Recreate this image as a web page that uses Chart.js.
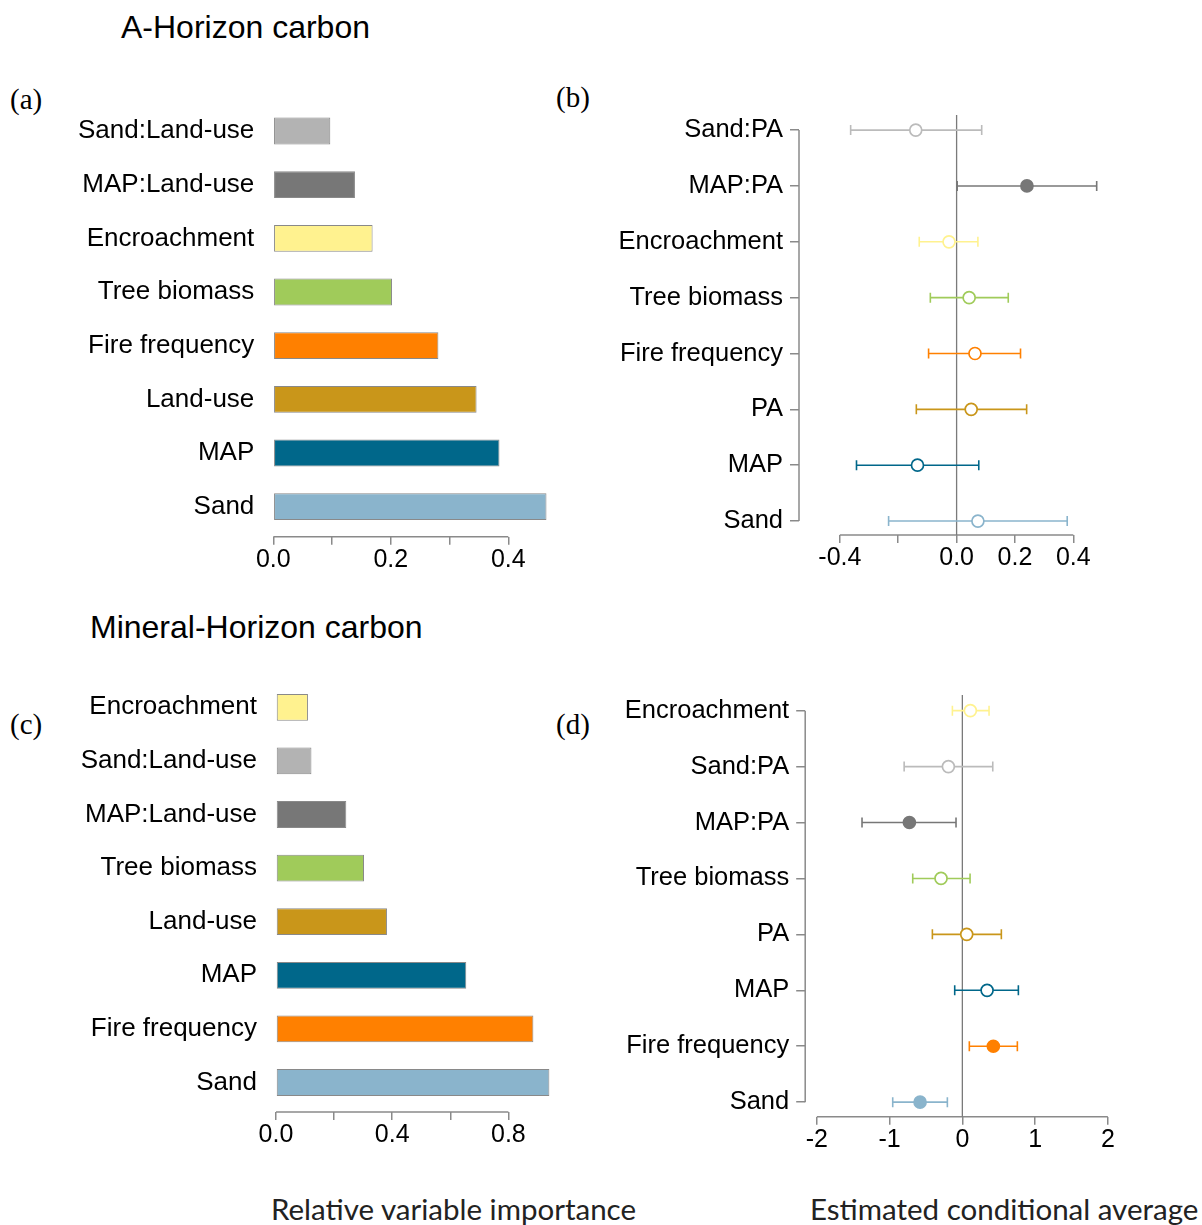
<!DOCTYPE html>
<html>
<head>
<meta charset="utf-8">
<script src="https://cdn.jsdelivr.net/npm/chart.js@4.4.1/dist/chart.umd.min.js"></script>
<style>
  body { margin: 0; background: #fff; }
  #page { position: relative; width: 1202px; height: 1225px; overflow: hidden; background: #fff; }
  canvas { position: absolute; }
  .txt { position: absolute; white-space: nowrap; color: #000; }
  .title { font-family: 'Liberation Sans', Arial, sans-serif; font-size: 32px; }
  .tag { font-family: 'Liberation Serif', 'Times New Roman', serif; font-size: 29px; }
  .xlab { font-family: Lato, 'Open Sans', sans-serif; font-size: 29.5px; color: #222; }
</style>
</head>
<body>
<div id="page">
  <div class="txt title" style="left:121px; top:9px;">A-Horizon carbon</div>
  <div class="txt title" style="left:90px; top:609px;">Mineral-Horizon carbon</div>
  <div class="txt tag" style="left:10px; top:83px;">(a)</div>
  <div class="txt tag" style="left:556px; top:81px;">(b)</div>
  <div class="txt tag" style="left:10px; top:708px;">(c)</div>
  <div class="txt tag" style="left:556px; top:708px;">(d)</div>
  <div class="txt xlab" style="left:271px; top:1191px;">Relative variable importance</div>
  <div class="txt xlab" style="left:810px; top:1191px;">Estimated conditional average</div>

  <canvas id="chartA" width="580" height="500" style="left:0px; top:90px;"></canvas>
  <canvas id="chartB" width="600" height="500" style="left:580px; top:90px;"></canvas>
  <canvas id="chartC" width="580" height="500" style="left:0px; top:670px;"></canvas>
  <canvas id="chartD" width="600" height="500" style="left:580px; top:670px;"></canvas>
</div>

<script>
// colours per predictor
const palette = {
  'Sand': '#8AB4CC',
  'MAP': '#00678A',
  'Land-use': '#C9961A',
  'PA': '#C9961A',
  'Fire frequency': '#FF8000',
  'Tree biomass': '#A0CB5A',
  'Encroachment': '#FFF28F',
  'MAP:Land-use': '#777777',
  'Sand:Land-use': '#B3B3B3',
  'MAP:PA': '#777777',
  'Sand:PA': '#BBBBBB'
};

// (a) A-horizon, relative variable importance
const catsA = ['Sand:Land-use', 'MAP:Land-use', 'Encroachment', 'Tree biomass', 'Fire frequency', 'Land-use', 'MAP', 'Sand'];
const importA = [0.097, 0.139, 0.169, 0.202, 0.281, 0.346, 0.385, 0.465];
const ticksA = [0, 0.1, 0.2, 0.3, 0.4];
const tickLabelsA = ['0.0', '', '0.2', '', '0.4'];

// (b) A-horizon, estimated conditional average with CI
const catsB = ['Sand:PA', 'MAP:PA', 'Encroachment', 'Tree biomass', 'Fire frequency', 'PA', 'MAP', 'Sand'];
const meanB = [-0.140, 0.241, -0.026, 0.043, 0.063, 0.050, -0.134, 0.073];
const lowB = [-0.363, 0.002, -0.128, -0.090, -0.096, -0.138, -0.343, -0.233];
const highB = [0.086, 0.480, 0.073, 0.177, 0.219, 0.240, 0.076, 0.379];
const filledB = [false, true, false, false, false, false, false, false];
const ticksB = [-0.4, -0.2, 0, 0.2, 0.4];
const tickLabelsB = ['-0.4', '', '0.0', '0.2', '0.4'];

// (c) mineral horizon, relative variable importance
const catsC = ['Encroachment', 'Sand:Land-use', 'MAP:Land-use', 'Tree biomass', 'Land-use', 'MAP', 'Fire frequency', 'Sand'];
const importC = [0.110, 0.122, 0.242, 0.303, 0.382, 0.655, 0.886, 0.941];
const ticksC = [0, 0.2, 0.4, 0.6, 0.8];
const tickLabelsC = ['0.0', '', '0.4', '', '0.8'];

// (d) mineral horizon, estimated conditional average with CI
const catsD = ['Encroachment', 'Sand:PA', 'MAP:PA', 'Tree biomass', 'PA', 'MAP', 'Fire frequency', 'Sand'];
const meanD = [0.110, -0.192, -0.728, -0.293, 0.060, 0.340, 0.426, -0.581];
const lowD = [-0.137, -0.800, -1.379, -0.682, -0.412, -0.105, 0.096, -0.957];
const highD = [0.367, 0.418, -0.087, 0.106, 0.536, 0.770, 0.756, -0.206];
const filledD = [false, false, true, false, false, false, true, true];
const ticksD = [-2, -1, 0, 1, 2];
const tickLabelsD = ['-2', '-1', '0', '1', '2'];

const SANS = "'Liberation Sans', Arial, sans-serif";
const AXIS_GREY = '#8a8a8a';

// draws the R-style axis lines (only between first and last tick) and the zero line
const axisLines = {
  id: 'axisLines',
  beforeDatasetsDraw(chart, args, opts) {
    const ctx = chart.ctx, x = chart.scales.x, y = chart.scales.y, area = chart.chartArea;
    ctx.save();
    ctx.strokeStyle = AXIS_GREY;
    ctx.lineWidth = 1.5;
    ctx.beginPath();
    ctx.moveTo(x.getPixelForValue(opts.xFrom), area.bottom);
    ctx.lineTo(x.getPixelForValue(opts.xTo), area.bottom);
    if (opts.yAxis) {
      ctx.moveTo(area.left, y.getPixelForValue(0));
      ctx.lineTo(area.left, y.getPixelForValue(opts.nCats - 1));
    }
    ctx.stroke();
    if (opts.zero) {
      ctx.strokeStyle = '#7a7a7a';
      ctx.lineWidth = 1.3;
      ctx.beginPath();
      ctx.moveTo(x.getPixelForValue(0), area.top);
      ctx.lineTo(x.getPixelForValue(0), area.bottom);
      ctx.stroke();
    }
    ctx.restore();
  }
};

// box = canvas position on the page, area = wanted plot area on the page
function frame(box, area) {
  return {
    padding: { top: area.top - box.top, right: box.left + box.w - area.right, left: 0, bottom: 0 },
    yWidth: area.left - box.left,
    xHeight: box.top + box.h - area.bottom
  };
}

function xScale(min, max, ticks, labels, fr) {
  return {
    type: 'linear', min: min, max: max, offset: false,
    afterBuildTicks: s => { s.ticks = ticks.map(v => ({ value: v })); },
    afterFit: s => { s.height = fr.xHeight; s.paddingLeft = 0; s.paddingRight = 0; },
    grid: { display: true, drawOnChartArea: false, drawTicks: true, tickLength: 8, color: AXIS_GREY, lineWidth: 1.5 },
    border: { display: false },
    ticks: { autoSkip: false, maxRotation: 0, padding: 0, color: '#000', font: { family: SANS, size: 25 },
             callback: (v, i) => labels[i] }
  };
}

function yScale(cats, min, max, fr, withAxis) {
  return {
    type: 'linear', reverse: true, min: min, max: max, offset: false,
    afterBuildTicks: s => { s.ticks = cats.map((c, i) => ({ value: i })); },
    afterFit: s => { s.width = fr.yWidth; s.paddingTop = 0; s.paddingBottom = 0; },
    grid: withAxis
      ? { display: true, drawOnChartArea: false, drawTicks: true, tickLength: 9, color: AXIS_GREY, lineWidth: 1.5 }
      : { display: false },
    border: { display: false },
    ticks: { autoSkip: false, padding: withAxis ? 7 : 11, color: '#000',
             font: { family: SANS, size: withAxis ? 25.5 : 26 },
             callback: (v, i) => cats[i] }
  };
}

function barPanel(id, box, area, cats, values, xMax, ticks, labels, yMax) {
  const fr = frame(box, area);
  new Chart(document.getElementById(id), {
    type: 'bar',
    data: {
      datasets: [{
        data: values.map((v, i) => ({ x: v, y: i })),
        backgroundColor: cats.map(c => palette[c]),
        borderColor: 'rgba(40,40,40,0.55)',
        borderWidth: 1,
        borderSkipped: false,
        barPercentage: 0.5,
        categoryPercentage: 1
      }]
    },
    options: {
      indexAxis: 'y',
      responsive: false, animation: false, devicePixelRatio: 1,
      layout: { padding: fr.padding },
      plugins: { legend: { display: false }, tooltip: { enabled: false },
                 axisLines: { xFrom: ticks[0], xTo: ticks[ticks.length - 1], yAxis: false, zero: false } },
      scales: {
        x: xScale(0, xMax, ticks, labels, fr),
        y: yScale(cats, -0.5, yMax, fr, false)
      }
    },
    plugins: [axisLines]
  });
}

function ciPanel(id, box, area, cats, mean, low, high, filled, xMin, xMax, ticks, labels, yMin, yMax) {
  const fr = frame(box, area);
  const datasets = [{
    type: 'scatter',
    order: 0,
    data: mean.map((m, i) => ({ x: m, y: i })),
    pointRadius: 6,
    pointBorderWidth: 1.7,
    pointBorderColor: cats.map(c => palette[c]),
    pointBackgroundColor: cats.map((c, i) => filled[i] ? palette[c] : '#ffffff')
  }];
  cats.forEach((c, i) => {
    datasets.push({
      type: 'scatter',
      order: 1,
      showLine: true,
      data: [{ x: low[i], y: i }, { x: high[i], y: i }],
      borderColor: palette[c],
      borderWidth: 1.6,
      pointStyle: 'line',
      pointRotation: 90,
      pointRadius: 5,
      pointBorderWidth: 1.6,
      pointBorderColor: palette[c]
    });
  });
  new Chart(document.getElementById(id), {
    type: 'scatter',
    data: { datasets: datasets },
    options: {
      responsive: false, animation: false, devicePixelRatio: 1,
      layout: { padding: fr.padding },
      plugins: { legend: { display: false }, tooltip: { enabled: false },
                 axisLines: { xFrom: ticks[0], xTo: ticks[ticks.length - 1], yAxis: true, nCats: cats.length, zero: true } },
      scales: {
        x: xScale(xMin, xMax, ticks, labels, fr),
        y: yScale(cats, yMin, yMax, fr, true)
      }
    },
    plugins: [axisLines]
  });
}

barPanel('chartA', { left: 0, top: 90, w: 580, h: 500 }, { left: 273.3, top: 104.2, right: 555.3, bottom: 536.7 },
  catsA, importA, 0.48, ticksA, tickLabelsA, 7.56);

ciPanel('chartB', { left: 580, top: 90, w: 600, h: 500 }, { left: 799, top: 115, right: 1114.2, bottom: 535 },
  catsB, meanB, lowB, highB, filledB, -0.54, 0.54, ticksB, tickLabelsB, -0.27, 7.25);

barPanel('chartC', { left: 0, top: 670, w: 580, h: 500 }, { left: 276, top: 680.5, right: 566.5, bottom: 1112 },
  catsC, importC, 1.0, ticksC, tickLabelsC, 7.55);

ciPanel('chartD', { left: 580, top: 670, w: 600, h: 500 }, { left: 805.2, top: 695, right: 1119.5, bottom: 1116.7 },
  catsD, meanD, lowD, highD, filledD, -2.16, 2.16, ticksD, tickLabelsD, -0.28, 7.26);
</script>
</body>
</html>
